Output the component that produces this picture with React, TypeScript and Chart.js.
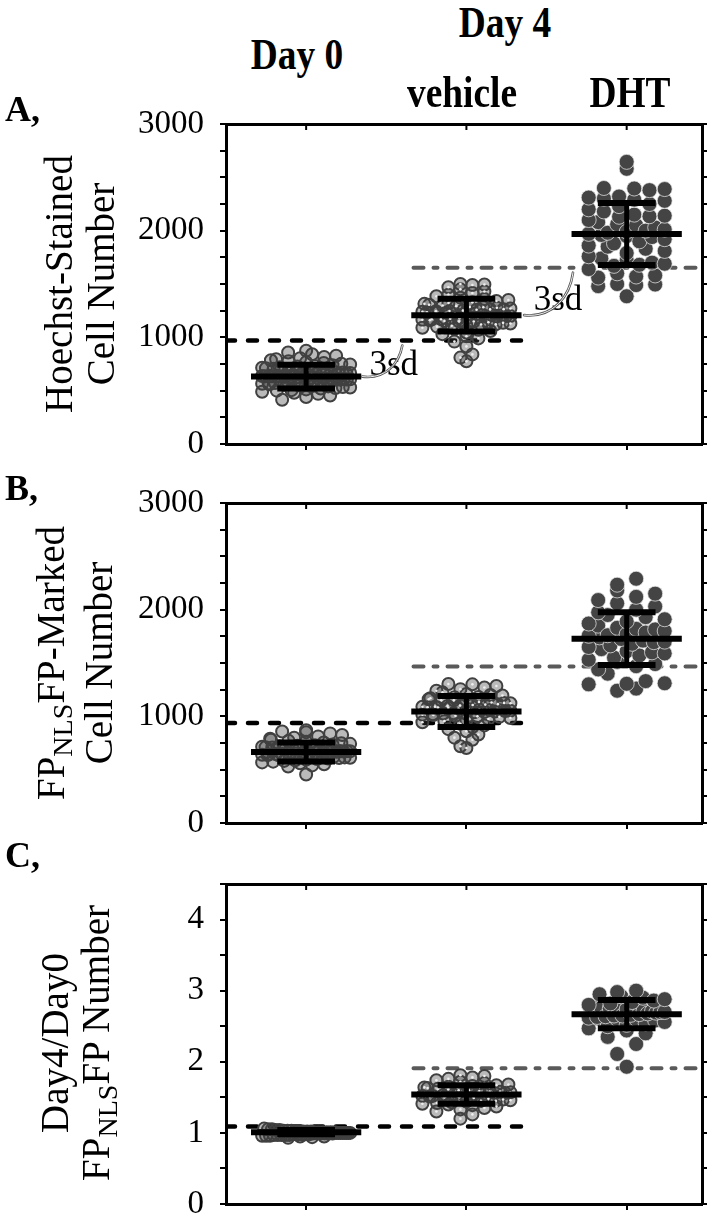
import React, { useEffect, useRef } from "react";
import { Chart, registerables } from "chart.js";

Chart.register(...registerables);

// ---------- data ----------
const CATEGORIES = ["Day 0", "vehicle", "DHT"];

// Panel A: Hoechst-stained cell number
const A_DAY0 = [415, 440, 455, 470, 480, 490, 500, 505, 512, 520, 525, 530, 535, 540, 545, 550, 555, 560, 565, 568, 572, 576, 580, 584, 588, 592, 596, 600, 603, 606, 610, 613, 616, 620, 623, 626, 629, 632, 635, 638, 641, 644, 647, 650, 654, 658, 662, 666, 670, 674, 678, 682, 686, 690, 695, 700, 705, 710, 715, 720, 726, 732, 738, 745, 752, 760, 768, 776, 785, 795, 805, 815, 828, 842, 858, 875, 585, 605, 618, 628, 640, 652, 664, 684, 598, 612, 636, 660];
const A_VEHICLE = [775, 810, 840, 915, 960, 990, 1010, 1030, 1045, 1060, 1070, 1080, 1090, 1100, 1108, 1115, 1122, 1130, 1136, 1142, 1148, 1154, 1160, 1165, 1170, 1175, 1180, 1185, 1190, 1195, 1200, 1205, 1210, 1215, 1220, 1225, 1230, 1235, 1240, 1246, 1252, 1258, 1264, 1270, 1277, 1284, 1291, 1298, 1306, 1314, 1322, 1330, 1340, 1350, 1360, 1372, 1385, 1400, 1415, 1430, 1450, 1470, 1490, 1495, 1500, 1150, 1172, 1188, 1198, 1212, 1228, 1244, 1262, 1282, 1120];
const A_DHT = [1385, 1480, 1490, 1495, 1500, 1560, 1570, 1580, 1600, 1640, 1670, 1680, 1690, 1700, 1720, 1740, 1760, 1790, 1810, 1830, 1850, 1860, 1880, 1900, 1920, 1940, 1950, 1960, 1970, 1980, 1990, 2000, 2010, 2030, 2050, 2060, 2080, 2100, 2130, 2135, 2140, 2150, 2180, 2200, 2230, 2250, 2280, 2290, 2300, 2310, 2320, 2380, 2390, 2395, 2400, 2580, 2645];
const A_MEANS = [632, 1208, 1969];
const A_SDS = [112, 153, 290];
const A_CUTOFFS = [970, 1653];
const A_TICK_LABELS = [0, 1000, 2000, 3000];

// Panel B: FP(NLS)FP-marked cell number
const B_DAY0 = [455, 530, 540, 550, 560, 568, 575, 582, 588, 594, 600, 605, 610, 615, 620, 624, 628, 632, 636, 640, 644, 648, 652, 656, 660, 664, 668, 672, 676, 680, 684, 688, 692, 696, 700, 705, 710, 715, 720, 725, 730, 736, 742, 748, 755, 762, 770, 780, 790, 800, 812, 825, 840, 850, 858, 870, 612, 634, 646, 658, 670, 682, 694, 708, 626, 650, 662, 674];
const B_VEHICLE = [703, 720, 781, 800, 830, 860, 880, 900, 915, 930, 945, 955, 965, 975, 985, 995, 1000, 1005, 1012, 1020, 1027, 1030, 1034, 1040, 1046, 1050, 1052, 1058, 1060, 1064, 1070, 1077, 1084, 1090, 1091, 1098, 1106, 1110, 1114, 1122, 1130, 1135, 1140, 1150, 1150, 1160, 1170, 1180, 1182, 1195, 1200, 1210, 1225, 1240, 1255, 1270, 1285, 1300, 1303, 1016, 1038, 1066, 1082, 1102, 1126];
const B_DHT = [1240, 1260, 1300, 1305, 1310, 1330, 1400, 1440, 1470, 1490, 1510, 1530, 1550, 1570, 1590, 1600, 1610, 1630, 1650, 1665, 1680, 1695, 1700, 1710, 1725, 1740, 1755, 1760, 1770, 1785, 1800, 1815, 1820, 1830, 1850, 1870, 1890, 1910, 1930, 1950, 1975, 2000, 2030, 2060, 2090, 2120, 2150, 2180, 2234, 2290];
const B_MEANS = [666, 1046, 1728];
const B_SDS = [89, 145, 247];
const B_CUTOFFS = [937, 1468];
const B_TICK_LABELS = [0, 1000, 2000, 3000];

// Panel C: Day4/Day0 FP(NLS)FP number
const C_DAY0 = [0.93, 0.94, 0.95, 0.95, 0.96, 0.96, 0.96, 0.97, 0.97, 0.97, 0.97, 0.98, 0.98, 0.98, 0.98, 0.98, 0.99, 0.99, 0.99, 0.99, 0.99, 1.0, 1.0, 1.0, 1.0, 1.0, 1.0, 1.01, 1.01, 1.01, 1.01, 1.01, 1.02, 1.02, 1.02, 1.02, 1.03, 1.03, 1.03, 1.04, 1.04, 1.05, 1.05, 1.06, 0.97, 0.99, 1.0, 1.01, 1.02, 1.0];
const C_VEHICLE = [1.2, 1.26, 1.3, 1.33, 1.35, 1.37, 1.39, 1.4, 1.41, 1.42, 1.43, 1.44, 1.45, 1.45, 1.46, 1.47, 1.48, 1.49, 1.5, 1.5, 1.51, 1.52, 1.53, 1.54, 1.55, 1.55, 1.56, 1.57, 1.58, 1.59, 1.6, 1.6, 1.61, 1.62, 1.63, 1.64, 1.65, 1.66, 1.67, 1.68, 1.7, 1.72, 1.74, 1.76, 1.78, 1.8, 1.81, 1.52, 1.54, 1.56, 1.58];
const C_DHT = [1.93, 2.11, 2.25, 2.35, 2.4, 2.44, 2.47, 2.5, 2.52, 2.54, 2.56, 2.58, 2.6, 2.6, 2.61, 2.62, 2.63, 2.64, 2.65, 2.65, 2.66, 2.67, 2.68, 2.69, 2.7, 2.7, 2.71, 2.72, 2.73, 2.74, 2.75, 2.75, 2.76, 2.78, 2.8, 2.82, 2.84, 2.86, 2.88, 2.9, 2.92, 2.95, 2.98, 3.0];
const C_MEANS = [1.01, 1.54, 2.67];
const C_SDS = [0.03, 0.13, 0.2];
const C_CUTOFFS = [1.09, 1.91];
const C_TICK_LABELS = [0, 1, 2, 3, 4];

// ---------- layout / style constants ----------
const FONT = "'Liberation Serif', 'Times New Roman', serif";
const X_MIN = 0.5;
const X_MAX = 3.47;
const PLOT_W = 476;
const PLOT_H = 320;
const CANVAS_W = 714;
const CANVAS_H = 400;
const PAD_TOP = 40;
const BLACK_CUTOFF_END = 2.38;
const GREY_CUTOFF_START = 1.67;
const MEAN_HALF = 0.344;
const CAP_HALF = 0.18;

type Panel = {
  id: string;
  top: number;
  max: number;
  minor: number;
  labels: number[];
  groups: number[][];
  means: number[];
  sds: number[];
  cutoffs: number[];
  notes: boolean;
};

const PANELS: Panel[] = [
  { id: "A", top: 124, max: 3000, minor: 250, labels: A_TICK_LABELS, groups: [A_DAY0, A_VEHICLE, A_DHT], means: A_MEANS, sds: A_SDS, cutoffs: A_CUTOFFS, notes: true },
  { id: "B", top: 503, max: 3000, minor: 250, labels: B_TICK_LABELS, groups: [B_DAY0, B_VEHICLE, B_DHT], means: B_MEANS, sds: B_SDS, cutoffs: B_CUTOFFS, notes: false },
  { id: "C", top: 884, max: 4.5, minor: 0.5, labels: C_TICK_LABELS, groups: [C_DAY0, C_VEHICLE, C_DHT], means: C_MEANS, sds: C_SDS, cutoffs: C_CUTOFFS, notes: false },
];

// beeswarm layout: bin values into rows, spread each row horizontally around the category
function swarm(values: number[], center: number, rowSize: number, step: number, maxHalf: number) {
  const bins = new Map<number, number[]>();
  values.forEach((v) => {
    const k = Math.round(v / rowSize);
    if (!bins.has(k)) bins.set(k, []);
    bins.get(k)!.push(v);
  });
  const pts: { x: number; y: number }[] = [];
  bins.forEach((list) => {
    list.sort((a, b) => a - b);
    const n = list.length;
    const s = n > 1 ? Math.min(step, (2 * maxHalf) / (n - 1)) : 0;
    const order: number[] = [];
    let lo = 0;
    let hi = n - 1;
    let t = 0;
    while (lo <= hi) {
      order.push(t % 2 === 0 ? list[lo++] : list[hi--]);
      t++;
    }
    order.forEach((v, k) => pts.push({ x: center + (k - (n - 1) / 2) * s, y: v }));
  });
  return pts;
}

function lineDs(data: { x: number; y: number }[], extra: any) {
  return {
    data,
    showLine: true,
    pointRadius: 0,
    pointHoverRadius: 0,
    fill: false,
    tension: 0,
    borderColor: "#000",
    borderWidth: 6,
    ...extra,
  };
}

const frameTicks = {
  id: "frameTicks",
  afterDatasetsDraw(chart: any) {
    const { ctx, chartArea, scales } = chart;
    ctx.save();
    ctx.strokeStyle = "#000";
    ctx.lineWidth = 2;
    CATEGORIES.forEach((_, i) => {
      const x = scales.x.getPixelForValue(i + 1);
      ctx.beginPath();
      ctx.moveTo(x, chartArea.top);
      ctx.lineTo(x, chartArea.top + 6);
      ctx.stroke();
    });
    ctx.restore();
  },
};

const sdNotes = {
  id: "sdNotes",
  afterDatasetsDraw(chart: any) {
    const spec = chart.options.plugins.sdNotes;
    if (!spec || !spec.show) return;
    const { ctx, scales } = chart;
    const xs = scales.x;
    const ys = scales.y;
    const notes = [
      { x0: 1.35, y0: spec.means[0], x1: 1.6, y1: spec.cutoffs[0], tx: 1.395, dy: -2 },
      { x0: 2.36, y0: spec.means[1], x1: 2.665, y1: spec.cutoffs[1], tx: 2.42, dy: -5 },
    ];
    ctx.save();
    notes.forEach((n) => {
      const px0 = xs.getPixelForValue(n.x0);
      const py0 = ys.getPixelForValue(n.y0);
      const px1 = xs.getPixelForValue(n.x1);
      const py1 = ys.getPixelForValue(n.y1) + 5;
      ctx.fillStyle = "#000";
      ctx.font = `35px ${FONT}`;
      ctx.textAlign = "left";
      ctx.textBaseline = "alphabetic";
      ctx.fillText("3sd", xs.getPixelForValue(n.tx), py0 + n.dy);
      ctx.beginPath();
      ctx.moveTo(px0, py0);
      ctx.bezierCurveTo(px0 + (px1 - px0) * 0.6, py0 + 3, px1 - 3, py0 - (py0 - py1) * 0.45, px1, py1);
      ctx.lineCap = "round";
      ctx.strokeStyle = "#555";
      ctx.lineWidth = 2.6;
      ctx.stroke();
      ctx.strokeStyle = "#fff";
      ctx.lineWidth = 0.9;
      ctx.stroke();
    });
    ctx.restore();
  },
};

function buildConfig(p: Panel): any {
  const yPerPx = p.max / PLOT_H;
  const xPerPx = (X_MAX - X_MIN) / PLOT_W;
  const tickValues: number[] = [];
  for (let v = 0; v <= p.max + 1e-9; v += p.minor) tickValues.push(Math.round(v * 1000) / 1000);

  const datasets: any[] = [];
  // 3sd cut-off lines
  datasets.push(
    lineDs(
      [
        { x: X_MIN, y: p.cutoffs[0] },
        { x: BLACK_CUTOFF_END, y: p.cutoffs[0] },
      ],
      { borderColor: "#000", borderWidth: 4.5, borderDash: [9, 13], borderCapStyle: "round", order: 4 }
    )
  );
  datasets.push(
    lineDs(
      [
        { x: GREY_CUTOFF_START, y: p.cutoffs[1] },
        { x: X_MAX, y: p.cutoffs[1] },
      ],
      { borderColor: "#5a5a5a", borderWidth: 4, borderDash: [10, 10, 4, 10], borderCapStyle: "round", order: 4 }
    )
  );

  p.groups.forEach((vals, i) => {
    const c = i + 1;
    const filled = i === 2;
    const pts = swarm(
      vals,
      c,
      (filled ? 12 : 8) * yPerPx,
      (filled ? 19 : 12) * xPerPx,
      (filled ? 38 : 44) * xPerPx
    );
    if (filled) {
      datasets.push({
        data: pts,
        pointStyle: "circle",
        pointRadius: 7.5,
        pointHoverRadius: 7.5,
        backgroundColor: "#444",
        pointBackgroundColor: "#444",
        borderColor: "rgba(235,235,235,0.9)",
        pointBorderColor: "rgba(235,235,235,0.9)",
        pointBorderWidth: 0.8,
        order: 2,
      });
    } else {
      datasets.push({
        data: pts,
        pointStyle: "circle",
        pointRadius: 6,
        pointHoverRadius: 6,
        backgroundColor: "rgba(64,64,64,0.36)",
        pointBackgroundColor: "rgba(64,64,64,0.36)",
        borderColor: "#404040",
        pointBorderColor: "#404040",
        pointBorderWidth: 2,
        order: 2,
      });
      if (i === 1) {
        datasets.push({
          data: pts,
          pointStyle: "circle",
          pointRadius: 1.3,
          pointHoverRadius: 1.3,
          backgroundColor: "#eee",
          pointBackgroundColor: "#eee",
          pointBorderWidth: 0,
          order: 1,
        });
      }
    }
    const m = p.means[i];
    const sd = p.sds[i];
    datasets.push(lineDs([{ x: c - MEAN_HALF, y: m }, { x: c + MEAN_HALF, y: m }], { order: 0 }));
    datasets.push(lineDs([{ x: c, y: m - sd }, { x: c, y: m + sd }], { borderWidth: 5, order: 0 }));
    datasets.push(lineDs([{ x: c - CAP_HALF, y: m + sd }, { x: c + CAP_HALF, y: m + sd }], { order: 0 }));
    datasets.push(lineDs([{ x: c - CAP_HALF, y: m - sd }, { x: c + CAP_HALF, y: m - sd }], { order: 0 }));
  });

  const setYTicks = (s: any) => {
    s.ticks = tickValues.map((v) => ({ value: v }));
  };
  const setXTicks = (s: any) => {
    s.ticks = CATEGORIES.map((_, i) => ({ value: i + 1 }));
  };
  const tickGrid = { drawOnChartArea: false, drawTicks: true, tickLength: 6, color: "#000", lineWidth: 2 };
  const border = { display: true, color: "#000", width: 3 };

  return {
    type: "scatter",
    data: { datasets },
    options: {
      animation: false,
      responsive: false,
      maintainAspectRatio: false,
      devicePixelRatio: 1,
      events: [],
      layout: {
        padding: {
          left: 126,
          right: CANVAS_W - 226 - PLOT_W - 8,
          top: PAD_TOP,
          bottom: CANVAS_H - PAD_TOP - PLOT_H - 10,
        },
      },
      plugins: {
        legend: { display: false },
        tooltip: { enabled: false },
        sdNotes: { show: p.notes, means: p.means, cutoffs: p.cutoffs },
      },
      scales: {
        x: {
          type: "linear",
          position: "bottom",
          min: X_MIN,
          max: X_MAX,
          afterBuildTicks: setXTicks,
          ticks: { display: false },
          grid: tickGrid,
          border,
          afterFit: (s: any) => {
            s.height = 10;
          },
        },
        x2: {
          type: "linear",
          position: "top",
          min: X_MIN,
          max: X_MAX,
          ticks: { display: false },
          grid: { display: false },
          border,
          afterFit: (s: any) => {
            s.height = 0;
          },
        },
        y: {
          type: "linear",
          position: "left",
          min: 0,
          max: p.max,
          afterBuildTicks: setYTicks,
          ticks: {
            autoSkip: false,
            padding: 16,
            color: "#000",
            font: { family: FONT, size: 33, lineHeight: 1 },
            callback: (v: any) => (p.labels.includes(Number(v)) ? String(v) : ""),
          },
          grid: tickGrid,
          border,
          afterFit: (s: any) => {
            s.width = 100;
          },
        },
        y2: {
          type: "linear",
          position: "right",
          min: 0,
          max: p.max,
          afterBuildTicks: setYTicks,
          ticks: { display: false, autoSkip: false },
          grid: { ...tickGrid, tickLength: 5 },
          border,
          afterFit: (s: any) => {
            s.width = 8;
          },
        },
      },
    },
    plugins: [frameTicks, sdNotes],
  };
}

function PanelChart({ panel }: { panel: Panel }) {
  const ref = useRef<HTMLCanvasElement | null>(null);
  useEffect(() => {
    if (!ref.current) return;
    const chart = new Chart(ref.current, buildConfig(panel));
    return () => chart.destroy();
  }, [panel]);
  return (
    <canvas
      ref={ref}
      width={CANVAS_W}
      height={CANVAS_H}
      style={{ position: "absolute", left: 0, top: panel.top - PAD_TOP, width: CANVAS_W, height: CANVAS_H }}
    />
  );
}

function Header({ cx, top, children }: { cx: number; top: number; children: React.ReactNode }) {
  return (
    <div
      style={{
        position: "absolute",
        left: cx,
        top,
        fontSize: 44,
        lineHeight: 1,
        fontWeight: "bold",
        whiteSpace: "nowrap",
        transform: "translateX(-50%) scaleX(0.85)",
      }}
    >
      {children}
    </div>
  );
}

function Letter({ top, children }: { top: number; children: React.ReactNode }) {
  return (
    <div style={{ position: "absolute", left: 5, top, fontSize: 36, lineHeight: 1, fontWeight: "bold" }}>{children}</div>
  );
}

function VText({ cx, cy, children }: { cx: number; cy: number; children: React.ReactNode }) {
  return (
    <div
      style={{
        position: "absolute",
        left: cx,
        top: cy,
        fontSize: 39,
        lineHeight: 1,
        whiteSpace: "nowrap",
        transform: "translate(-50%, -50%) rotate(-90deg)",
      }}
    >
      {children}
    </div>
  );
}

const Sub = ({ children }: { children: React.ReactNode }) => (
  <span style={{ fontSize: "0.72em", verticalAlign: "-0.28em" }}>{children}</span>
);

export default function App() {
  return (
    <div
      style={{
        position: "absolute",
        left: 0,
        top: 0,
        width: 714,
        height: 1220,
        overflow: "hidden",
        background: "#fff",
        fontFamily: FONT,
        color: "#000",
      }}
    >
      {PANELS.map((p) => (
        <PanelChart key={p.id} panel={p} />
      ))}

      <Header cx={505} top={1}>Day 4</Header>
      <Header cx={297} top={33}>{CATEGORIES[0]}</Header>
      <Header cx={462} top={71}>{CATEGORIES[1]}</Header>
      <Header cx={630} top={71}>{CATEGORIES[2]}</Header>

      <Letter top={91}>A,</Letter>
      <Letter top={470}>B,</Letter>
      <Letter top={837}>C,</Letter>

      <VText cx={58} cy={284}>Hoechst-Stained</VText>
      <VText cx={100} cy={284}>Cell Number</VText>

      <VText cx={54} cy={663}>
        FP<Sub>NLS</Sub>FP-Marked
      </VText>
      <VText cx={98} cy={663}>Cell Number</VText>

      <VText cx={54} cy={1043}>Day4/Day0</VText>
      <VText cx={99} cy={1043}>
        FP<Sub>NLS</Sub>FP Number
      </VText>
    </div>
  );
}
